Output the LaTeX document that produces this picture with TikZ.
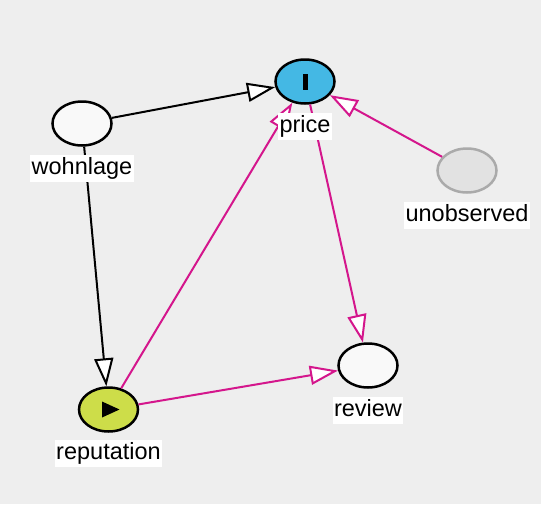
\documentclass[tikz,border=0pt]{standalone}
\usepackage{fontspec}
\setmainfont{Liberation Sans}
\usepackage{tikz}
\usetikzlibrary{positioning}
\usetikzlibrary{shapes.geometric}
\usetikzlibrary{arrows.meta}
\usepackage{xcolor}

\definecolor{bggray}{RGB}{238,238,238}
\definecolor{nodewhite}{RGB}{249,249,249}
\definecolor{expblue}{RGB}{68,184,228}
\definecolor{outgreen}{RGB}{205,221,73}
\definecolor{latgray}{RGB}{226,226,226}
\definecolor{latedge}{RGB}{170,170,170}
\definecolor{pathpink}{RGB}{212,22,140}

\begin{document}
\begin{tikzpicture}[x=1pt, y=-1pt,
    var/.style={ellipse, draw=black, line width=2.5pt, fill=nodewhite, minimum width=59pt, minimum height=44pt, inner sep=0pt},
    lbl/.style={fill=white, inner xsep=1.5pt, inner ysep=3pt, text height=16.5pt, text depth=5pt, font=\fontsize{23.5}{27}\selectfont},
    arr/.style={line width=2pt, -{Triangle[length=28pt, width=19pt, fill=white]}}]

\fill[bggray] (0,0) rectangle (541,504);
\useasboundingbox (0,0) rectangle (541,504);

% variables
\node[var] (wohnlage) at (82,123.5) {};
\node[var, fill=expblue] (price) at (305,81.5) {};
\node[var, draw=latedge, fill=latgray] (unobserved) at (467,170.5) {};
\node[var] (review) at (368,365.5) {};
\node[var, fill=outgreen] (reputation) at (108.5,409.5) {};

% symbols inside
\fill[black] (302.5,73.5) rectangle (307.5,89.5);
\fill[black] (102,401.5) -- (119.5,409.5) -- (102,417.5) -- cycle;

% black edges
{
\draw[arr, black] (wohnlage) -- (price);
\draw[arr, black] (wohnlage) -- (reputation);
}

% pink edges
{
\draw[arr, pathpink] (unobserved) -- (price);
\draw[arr, pathpink] (price) -- (review);
\draw[arr, pathpink] (reputation) -- (price);
\draw[arr, pathpink] (reputation) -- (review);
}

% labels
\node[lbl] (wohnlage-lbl) at (82,168.5) {wohnlage};
\node[lbl] (price-lbl) at (305,126.5) {price};
\node[lbl] (unobserved-lbl) at (467,215.5) {unobserved};
\node[lbl] (review-lbl) at (368,410.5) {review};
\node[lbl] (reputation-lbl) at (108.5,453.5) {reputation};

\end{tikzpicture}
\end{document}
